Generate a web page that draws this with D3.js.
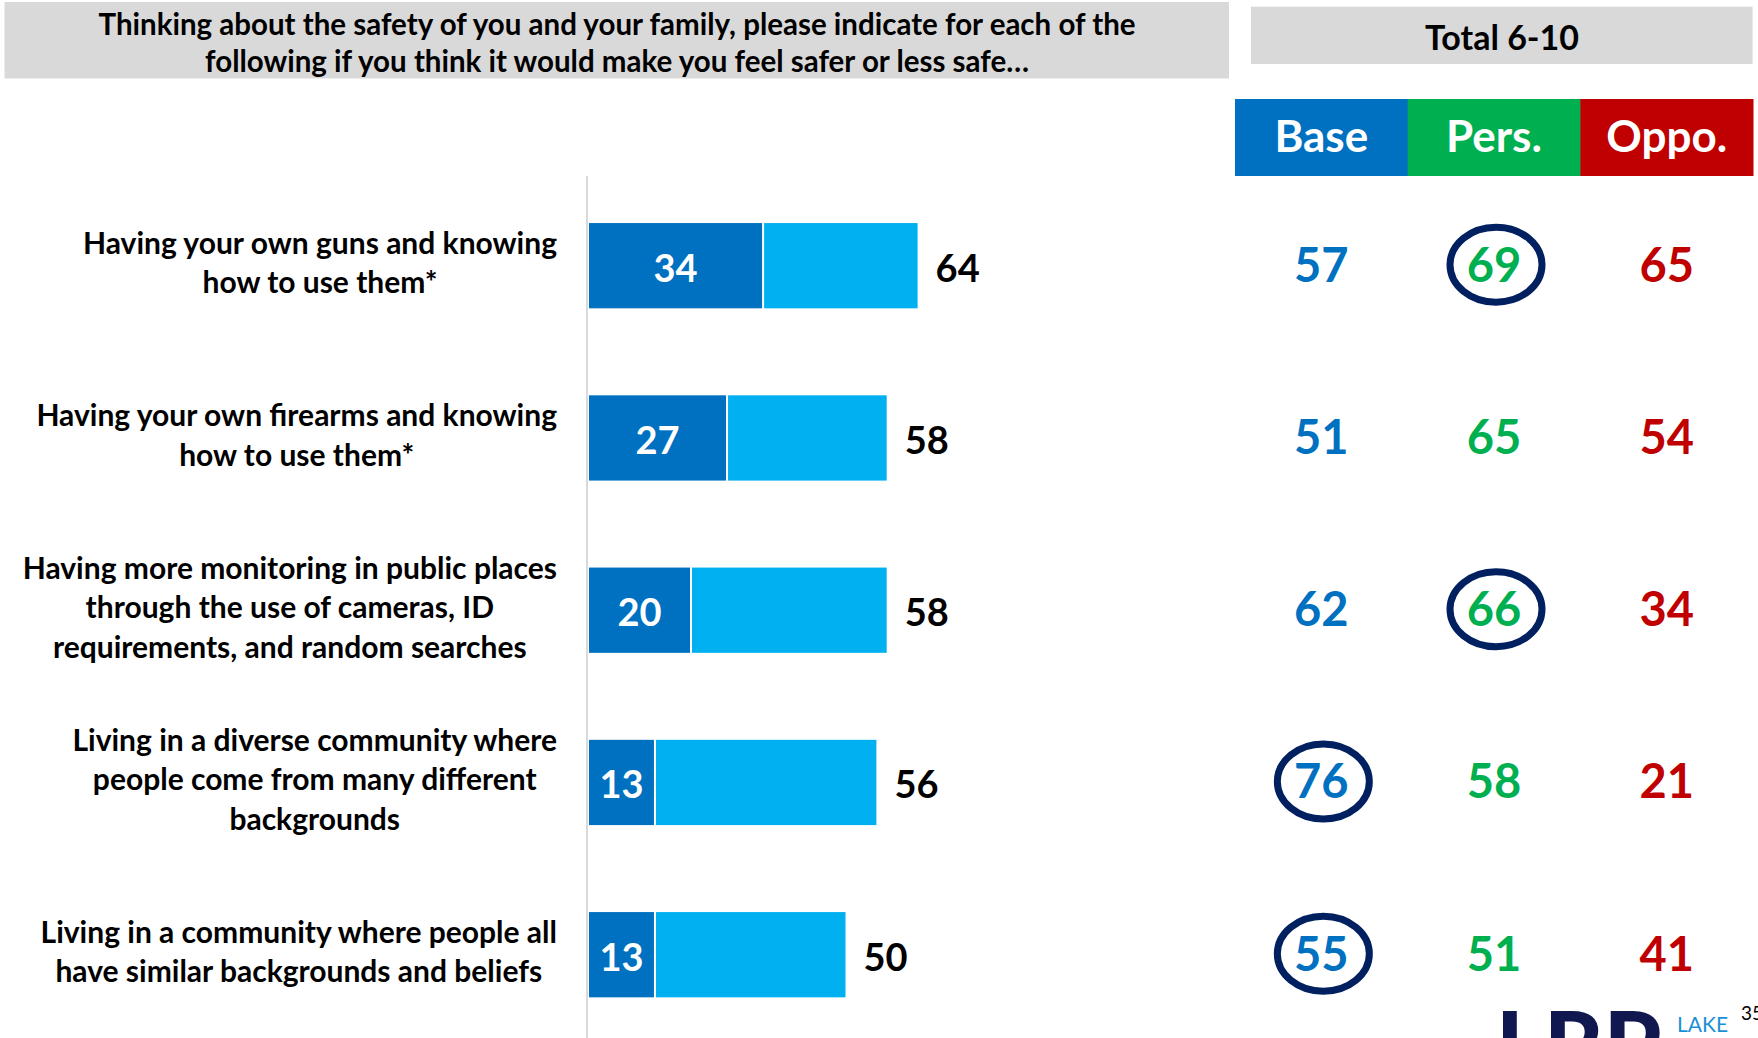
<!DOCTYPE html>
<html>
<head>
<meta charset="utf-8">
<script src="https://cdn.jsdelivr.net/npm/d3@7"></script>
<style>
  html, body { margin: 0; padding: 0; background: #fff; overflow: hidden; }
  svg { display: block; font-family: Lato, "Open Sans", sans-serif; }
</style>
</head>
<body>
<svg id="chart" width="1758" height="1038"></svg>
<script>
// Survey items (each label line listed separately)
const categories = [
  ["Having your own guns and knowing", "how to use them*"],
  ["Having your own firearms and knowing", "how to use them*"],
  ["Having more monitoring in public places", "through the use of cameras, ID", "requirements, and random searches"],
  ["Living in a diverse community where", "people come from many different", "backgrounds"],
  ["Living in a community where people all", "have similar backgrounds and beliefs"]
];
// "Much safer" share and total "safer" share
const muchSafer = [34, 27, 20, 13, 13];
const totalSafer = [64, 58, 58, 56, 50];

// Total 6-10 by segment
const segments = ["Base", "Pers.", "Oppo."];
const baseValues = [57, 51, 62, 76, 55];
const persValues = [69, 65, 66, 58, 51];
const oppoValues = [65, 54, 34, 21, 41];
// Which segment value is highlighted on each row
const highlighted = ["Pers.", null, "Pers.", "Base", "Base"];

const titleLines = [
  "Thinking about the safety of you and your family, please indicate for each of the",
  "following if you think it would make you feel safer or less safe…"
];
const panelTitle = "Total 6-10";

const segColors = { "Base": "#0070C0", "Pers.": "#00B050", "Oppo.": "#C00000" };
const darkBlue = "#0070C0", lightBlue = "#00B0F0";

const svg = d3.select("#chart");
const ids = d3.range(categories.length);

// ---------- title banner ----------
svg.append("rect").attr("x", 4.5).attr("y", 2).attr("width", 1224.5).attr("height", 76.5)
  .attr("fill", "#D9D9D9");
svg.append("g").selectAll("text").data(titleLines).join("text")
  .attr("x", 617).attr("y", (d, i) => 23 + i * 37)
  .attr("text-anchor", "middle").attr("dominant-baseline", "central")
  .attr("font-size", 29.5).attr("font-weight", 700).attr("fill", "#000")
  .text(d => d);

// ---------- scales ----------
const x = d3.scaleLinear().domain([0, 100]).range([588, 1103]);
const y = d3.scaleBand().domain(ids).range([180, 1040.4]).paddingInner(0.505).paddingOuter(0.25);

// axis line
svg.append("line").attr("x1", 587).attr("x2", 587).attr("y1", 176).attr("y2", 1038)
  .attr("stroke", "#D9D9D9").attr("stroke-width", 2);

// ---------- bars ----------
const rows = svg.append("g").selectAll("g").data(ids).join("g");

rows.append("rect")
  .attr("x", i => x(0) + 1).attr("y", i => y(i))
  .attr("width", i => x(muchSafer[i]) - x(0) - 2).attr("height", y.bandwidth())
  .attr("fill", darkBlue);
rows.append("rect")
  .attr("x", i => x(muchSafer[i]) + 1).attr("y", i => y(i))
  .attr("width", i => x(totalSafer[i]) - x(muchSafer[i]) - 1).attr("height", y.bandwidth())
  .attr("fill", lightBlue);

rows.append("text")
  .attr("x", i => (x(0) + x(muchSafer[i])) / 2).attr("y", i => y(i) + y.bandwidth() / 2 + 1)
  .attr("text-anchor", "middle").attr("dominant-baseline", "central")
  .attr("font-size", 38).attr("font-weight", 700).attr("fill", "#fff")
  .text(i => muchSafer[i]);
rows.append("text")
  .attr("x", i => x(totalSafer[i]) + 18).attr("y", i => y(i) + y.bandwidth() / 2 + 1)
  .attr("dominant-baseline", "central")
  .attr("font-size", 38).attr("font-weight", 700).attr("fill", "#000")
  .text(i => totalSafer[i]);

// ---------- category labels: centred lines in a block flush against the axis ----------
const labelRight = 557, lineGap = 39.5;
ids.forEach(i => {
  const lines = categories[i];
  const g = svg.append("g");
  const cy = y(i) + y.bandwidth() / 2 - 4;
  const t = g.selectAll("text").data(lines).join("text")
    .attr("y", (d, k) => cy + (k - (lines.length - 1) / 2) * lineGap)
    .attr("text-anchor", "middle").attr("dominant-baseline", "central")
    .attr("font-size", 30).attr("font-weight", 700).attr("fill", "#000")
    .text(d => d);
  const maxW = d3.max(t.nodes(), n => n.getComputedTextLength());
  t.attr("x", labelRight - maxW / 2);
});

// ---------- right panel ----------
svg.append("rect").attr("x", 1251).attr("y", 6.7).attr("width", 501.6).attr("height", 57.3)
  .attr("fill", "#D9D9D9");
svg.append("text").attr("x", 1502).attr("y", 36)
  .attr("text-anchor", "middle").attr("dominant-baseline", "central")
  .attr("font-size", 34).attr("font-weight", 700).attr("fill", "#000")
  .text(panelTitle);

const col = d3.scaleBand().domain(segments).range([1235, 1753]);
const head = svg.append("g").selectAll("g").data(segments).join("g");
head.append("rect").attr("x", d => col(d)).attr("y", 99).attr("width", col.bandwidth() + 0.5)
  .attr("height", 77).attr("fill", d => segColors[d]);
head.append("text").attr("x", d => col(d) + col.bandwidth() / 2).attr("y", 135)
  .attr("text-anchor", "middle").attr("dominant-baseline", "central")
  .attr("font-size", 44).attr("font-weight", 700).attr("fill", "#fff")
  .text(d => d);

const segValues = { "Base": baseValues, "Pers.": persValues, "Oppo.": oppoValues };
const cells = [];
ids.forEach(i => segments.forEach(s => cells.push({ row: i, seg: s, value: segValues[s][i] })));

const cellY = d => y(d.row) + y.bandwidth() / 2 - 2;
const cellX = d => col(d.seg) + col.bandwidth() / 2;

svg.append("g").selectAll("ellipse").data(cells.filter(d => highlighted[d.row] === d.seg))
  .join("ellipse")
  .attr("cx", d => cellX(d) + 2).attr("cy", d => cellY(d) + 1)
  .attr("rx", 46).attr("ry", 37.5)
  .attr("fill", "none").attr("stroke", "#002060").attr("stroke-width", 7);

svg.append("g").selectAll("text").data(cells).join("text")
  .attr("x", cellX).attr("y", cellY)
  .attr("text-anchor", "middle").attr("dominant-baseline", "central")
  .attr("font-size", 47).attr("font-weight", 700)
  .attr("fill", d => segColors[d.seg])
  .text(d => d.value);

// ---------- footer logo and page number ----------
svg.append("text").attr("x", 1496).attr("y", 1078)
  .attr("font-size", 92).attr("font-weight", 900).attr("fill", "#111850")
  .text("LRP");
svg.append("text").attr("x", 1677).attr("y", 1032)
  .attr("font-size", 21).attr("fill", "#1B8FD6")
  .text("LAKE");
svg.append("text").attr("x", 1741).attr("y", 1020)
  .attr("font-size", 19).attr("fill", "#000")
  .text("35");
</script>
</body>
</html>
